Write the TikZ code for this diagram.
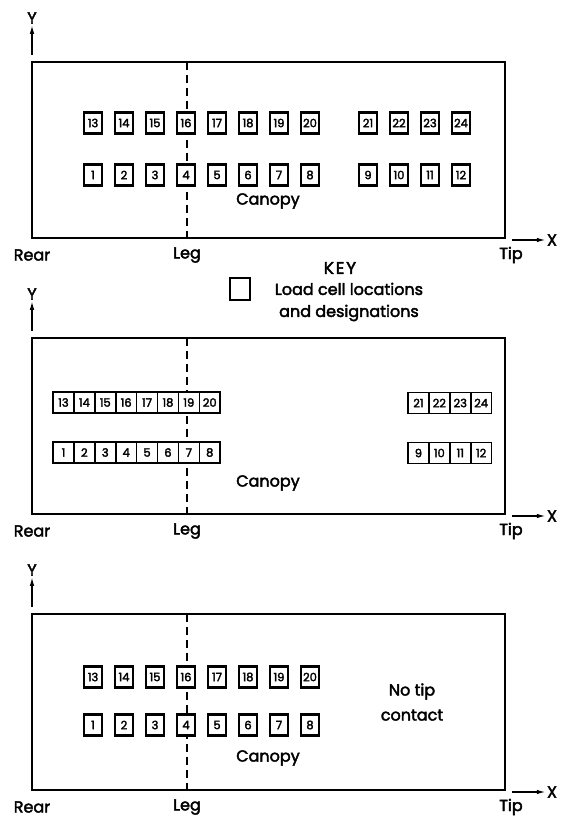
\documentclass[tikz,border=0pt]{standalone}
\usepackage{fontspec}
\setmainfont{Poppins}
\usetikzlibrary{arrows.meta}
\begin{document}
\begin{tikzpicture}[x=1pt, y=-1pt,
    frame/.style={draw, line width=2.9pt, outer sep=0pt, inner sep=0pt, minimum width=473pt, minimum height=176pt, anchor=north west},
    cell/.style={draw, fill=white, line width=2.1pt, inner sep=0pt, minimum width=18pt, minimum height=21pt, font=\fontsize{11.5}{12}\selectfont\addfontfeature{FakeBold=2.5}},
    strip/.style={cell, line width=1.6pt, minimum width=20.9pt},
    lbl/.style={inner sep=1pt, font=\fontsize{16}{22}\selectfont\addfontfeature{FakeBold=2.5}},
    legline/.style={line width=1.3pt, dash pattern=on 8pt off 5pt},
    axis/.style={line width=1.5pt, -{Latex[length=9pt, width=4.5pt]}}]
    \useasboundingbox (0,0) rectangle (563,821);

    % Panels
    \foreach \p/\top/\cy in {1/62/139, 2/338/145, 3/614/144} {
      \begin{scope}[shift={(0,\top)}]
        \node[frame] (frame\p) at (32,0) {};
        \node[lbl] (rear\p) at (32,193) {Rear};
        \node[lbl] (leg\p) at (187,193) {Leg};
        \node[lbl] (tip\p) at (511,193) {Tip};
        \node[lbl] (canopy\p) at (268,\cy) {Canopy};
        \draw[legline] (frame\p.north -| leg\p) -- (frame\p.south -| leg\p);
        % Axes
        \node[lbl] (y\p) at (32,-44) {Y};
        \node[lbl] (x\p) at (552,178) {X};
        \draw[axis] ([yshift=7pt]frame\p.north west) -- (y\p.south);
        \draw[axis] ([xshift=7pt,yshift=-2pt]frame\p.south east) -- (x\p.west);
      \end{scope}
    }

    % Load cells, top panel
    \foreach \i [evaluate=\i as \j using int(\i+12)] in {1,...,8} {
      \node[cell] (a\i) at (62+31*\i,175) {\i};
      \node[cell] (a\j) at (62+31*\i,123) {\j};
    }
    \foreach \i [evaluate=\i as \j using int(\i+12)] in {9,...,12} {
      \node[cell] (a\i) at (89+31*\i,175) {\i};
      \node[cell] (a\j) at (89+31*\i,123) {\j};
    }

    % Key
    \node[lbl, font=\fontsize{17}{17}\selectfont\addfontfeature{FakeBold=2.5,LetterSpace=10}] (key) at (340,268) {KEY};
    \node[cell, minimum width=20pt, minimum height=22pt] (keycell) at (240,289) {};
    \node[lbl, align=center] (keytext) at (349,302) {Load cell locations\\and designations};

    % Load cells, middle panel
    \foreach \i [evaluate=\i as \j using int(\i+12)] in {1,...,8} {
      \node[strip] (b\i) at (42.55+20.9*\i,452.5) {\i};
      \node[strip] (b\j) at (42.55+20.9*\i,402.5) {\j};
    }
    \foreach \i [evaluate=\i as \j using int(\i+12)] in {9,...,12} {
      \node[strip] (b\i) at (230.35+20.9*\i,453) {\i};
      \node[strip] (b\j) at (230.35+20.9*\i,403) {\j};
    }

    % Load cells, bottom panel
    \foreach \i [evaluate=\i as \j using int(\i+12)] in {1,...,8} {
      \node[cell] (c\i) at (62+31*\i,725) {\i};
      \node[cell] (c\j) at (62+31*\i,677) {\j};
    }
    \node[lbl, align=center, font=\fontsize{16}{25}\selectfont\addfontfeature{FakeBold=2.5}] (notip) at (412,702) {No tip\\contact};
\end{tikzpicture}
\end{document}
